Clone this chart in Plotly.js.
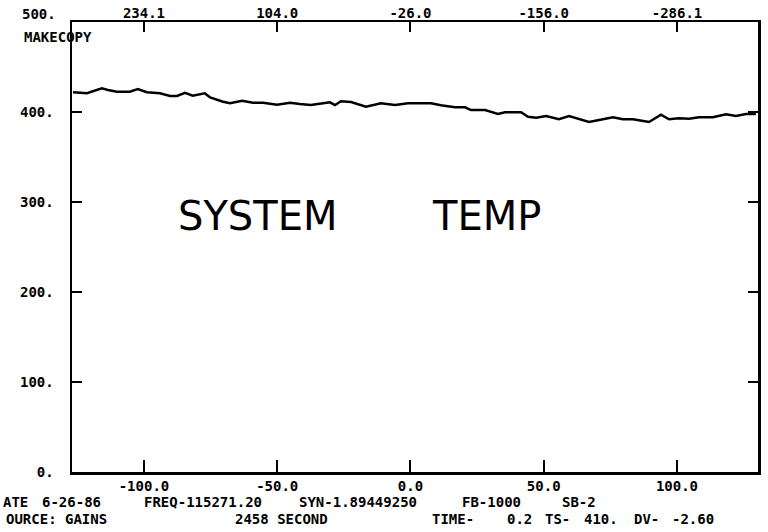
<!DOCTYPE html>
<html>
<head>
<meta charset="utf-8">
<script src="https://cdn.plot.ly/plotly-3.0.1.min.js"></script>
<style>html,body{margin:0;padding:0;background:#fff;}#chart{width:768px;height:532px;}</style>
</head>
<body>
<div id="chart"></div>
<script>
// ---- data ----
const offsetVals = [-126.6,-121.4,-115.8,-113.5,-110.1,-105.3,-102.3,-98.9,-94.0,-90.2,-87.6,-84.6,-81.7,-77.2,-75.2,-70.3,-67.7,-63.2,-59.1,-55.3,-50.1,-45.2,-41.5,
  -37.4,-32.8,-30.2,-28.3,-26.1,-22.3,-16.7,-11.1,-5.8,-0.9,2.8,7.7,11.4,16.7,20.5,22.7,28.0,32.8,35.5,39.2,41.5,44.1,
  47.2,50.9,55.7,59.5,63.2,67.0,72.2,76.0,79.7,83.5,89.5,94.0,97.0,100.7,104.5,108.3,113.5,118.4,122.1,125.9,129.6];
const tempVals = [421.9,420.8,426.3,424.4,422.6,422.6,425.6,421.9,420.8,417.8,417.8,421.4,418.1,420.8,416.3,411.4,409.7,412.6,410.3,410.3,408.1,410.3,408.9,
  407.8,409.7,410.8,407.8,411.9,411.1,405.9,409.7,407.8,409.7,409.7,409.7,407.4,405.2,405.2,402.2,402.2,397.8,399.7,399.2,399.7,394.8,
  393.7,395.6,391.9,395.6,392.6,388.9,391.9,394.1,391.9,391.9,388.9,397.0,391.9,393.0,392.6,394.1,394.1,397.4,395.6,397.8,397.8];
const bottomTickVals = [-100, -50, 0, 50, 100];
const bottomTickText = ["-100.0", "-50.0", "0.0", "50.0", "100.0"];
const topTickText = ["234.1", "104.0", "-26.0", "-156.0", "-286.1"];
const yTickVals = [0, 100, 200, 300, 400, 500];
const yTickText = ["0.", "100.", "200.", "300.", "400.", ""];
const yTopLabel = "500.";
const footerLine1 = ["ATE", "6-26-86", "FREQ-115271.20", "SYN-1.89449250", "FB-1000", "SB-2"];
const footerLine2 = ["OURCE: GAINS", "2458 SECOND", "TIME-", "0.2", "TS-", "410.", "DV-", "-2.60"];
const label = "MAKECOPY";
const note = ["SYSTEM", "TEMP"];

// ---- layout helpers ----
const W = 768, H = 532, L = 72, R = 10, T = 22, B = 60;
const PW = W - L - R, PH = H - T - B;
const px = v => (v - L) / PW;
const py = v => (H - B - v) / PH;
const mono = {family: "DejaVu Sans Mono", size: 14, color: "#000", weight: "bold"};

const line1X = [1, 40, 142, 297, 460, 560];
const line2X = [4, 233, 430, 505, 543, 582, 632, 670];
const annotations = [];
footerLine1.forEach((t, i) => annotations.push({text: t, x: px(line1X[i]), y: py(502), xref: "paper", yref: "paper", xanchor: "left", yanchor: "middle", showarrow: false, font: mono}));
footerLine2.forEach((t, i) => annotations.push({text: t, x: px(line2X[i]), y: py(519), xref: "paper", yref: "paper", xanchor: "left", yanchor: "middle", showarrow: false, font: mono}));
annotations.push({text: label, x: px(22), y: py(37), xref: "paper", yref: "paper", xanchor: "left", yanchor: "middle", showarrow: false, font: mono});
annotations.push({text: yTopLabel, x: px(58), y: py(14), xref: "paper", yref: "paper", xanchor: "right", yanchor: "middle", showarrow: false, font: mono});
const noteX = [257, 486];
note.forEach((t, i) => annotations.push({text: t, x: px(noteX[i]), y: py(216), xref: "paper", yref: "paper", xanchor: "center", yanchor: "middle", showarrow: false, font: {family: "DejaVu Sans", size: 40, color: "#000", weight: "normal"}}));

const xRange = [-127, 130.4];
const traces = [
  {x: offsetVals, y: tempVals, mode: "lines", line: {color: "#000", width: 2.5}, hoverinfo: "skip", showlegend: false},
  {x: offsetVals, y: tempVals, xaxis: "x2", mode: "lines", opacity: 0, line: {color: "#000", width: 1}, hoverinfo: "skip", showlegend: false}
];

const layout = {
  width: W, height: H,
  margin: {l: L, r: R, t: T, b: B, pad: 0},
  paper_bgcolor: "#fff", plot_bgcolor: "#fff",
  showlegend: false,
  font: mono,
  xaxis: {range: xRange, tickmode: "array", tickvals: bottomTickVals, ticktext: bottomTickText,
    ticks: "inside", ticklen: 12, tickwidth: 2, tickcolor: "#000",
    showline: true, linewidth: 2.5, linecolor: "#000", mirror: true,
    showgrid: false, zeroline: false, tickfont: mono, ticklabelstandoff: 0},
  xaxis2: {range: xRange, overlaying: "x", side: "top", tickmode: "array", tickvals: bottomTickVals, ticktext: topTickText,
    ticks: "inside", ticklen: 10, tickwidth: 2, tickcolor: "#000",
    showline: false, showgrid: false, zeroline: false, tickfont: mono},
  yaxis: {range: [0, 500], tickmode: "array", tickvals: yTickVals, ticktext: yTickText,
    ticks: "inside", ticklen: 10, tickwidth: 2, tickcolor: "#000",
    showline: true, linewidth: 2.5, linecolor: "#000", mirror: "ticks",
    showgrid: false, zeroline: false, tickfont: mono, ticklabelstandoff: 13},
  annotations: annotations
};

Plotly.newPlot("chart", traces, layout, {displayModeBar: false, staticPlot: true});
</script>
</body>
</html>
